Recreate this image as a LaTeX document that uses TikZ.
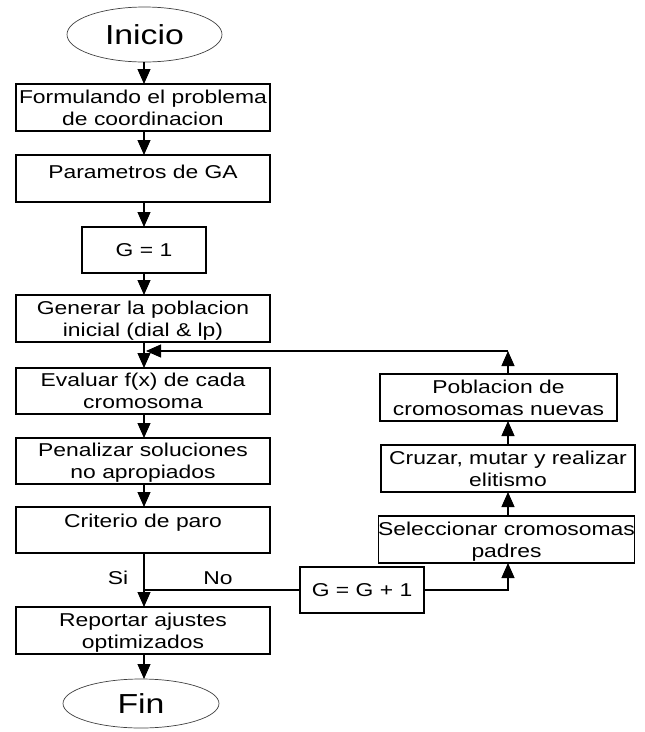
\documentclass[tikz,border=0pt]{standalone}
\usepackage{fontspec}
\setmainfont{Liberation Sans}[FakeStretch=1.23]
\usetikzlibrary{shapes.geometric,arrows.meta}
\begin{document}
\begin{tikzpicture}[x=1pt,y=-1pt,
  every node/.style={inner sep=0pt,outer sep=0pt},
  box/.style={draw,line width=1.1pt,rectangle,align=center,text depth=-5pt,
    font=\fontsize{18.6}{22}\selectfont},
  oval/.style={draw=black!75,line width=0.7pt,ellipse,
    font=\fontsize{27.5}{30}\selectfont},
  txt/.style={font=\fontsize{18.6}{22}\selectfont},
  arr/.style={line width=1.1pt,-{Triangle[length=15pt,width=13pt]}},
  ln/.style={line width=1.1pt}]
\useasboundingbox (0,0) rectangle (645,732);
% left column
\node[oval,minimum width=155pt,minimum height=55pt] (ini) at (144.5,34.5) {Inicio};
\node[box,minimum width=254pt,minimum height=47pt] (form) at (143,107.5) {Formulando el problema\\de coordinacion};
\node[box,minimum width=254pt,minimum height=47pt] (par) at (143,178.5) {};
\node[txt] (parT) at (143,172) {Parametros de GA};
\node[txt,draw,line width=1.1pt,minimum width=124pt,minimum height=46pt] (g1) at (144,250) {G = 1};
\node[box,minimum width=254pt,minimum height=47pt] (gen) at (143,318.5) {Generar la poblacion\\inicial (dial \& lp)};
\node[box,minimum width=254pt,minimum height=46pt] (eva) at (143,391) {Evaluar f(x) de cada\\cromosoma};
\node[box,minimum width=254pt,minimum height=46pt] (pen) at (143,461) {Penalizar soluciones\\no apropiados};
\node[box,minimum width=254pt,minimum height=46pt] (cri) at (143,530) {};
\node[txt] (criT) at (143,523) {Criterio de paro};
\node[box,minimum width=254pt,minimum height=47pt] (rep) at (143,630.5) {Reportar ajustes\\optimizados};
\node[oval,minimum width=156pt,minimum height=49pt] (fin) at (141,703.5) {Fin};
% right column
\node[box,minimum width=237pt,minimum height=47pt] (pob) at (498.5,397.5) {Poblacion de\\cromosomas nuevas};
\node[box,minimum width=254pt,minimum height=47pt] (cru) at (508,468.5) {Cruzar, mutar y realizar\\elitismo};
\node[box,minimum width=255pt,minimum height=47pt] (sel) at (506.5,539.5) {Seleccionar cromosomas\\padres};
\node[txt,draw,line width=1.1pt,minimum width=124pt,minimum height=46pt] (gg) at (362,590) {G = G + 1};
% labels
\node[txt] (si) at (118,578) {Si};
\node[txt] (no) at (218,578) {No};
% coordinates
\coordinate (split) at (144,590);
\coordinate (corner) at (508,351);
% connectors
\draw[arr] (ini.south -| split) -- (form.north -| split);
\draw[arr] (form.south -| split) -- (par.north -| split);
\draw[arr] (par.south -| split) -- (g1.north);
\draw[arr] (g1.south) -- (gen.north -| split);
\draw[arr] (gen.south -| split) -- (eva.north -| split);
\draw[arr] (eva.south -| split) -- (pen.north -| split);
\draw[arr] (pen.south -| split) -- (cri.north -| split);
\draw[arr] (cri.south -| split) -- (rep.north -| split);
\draw[arr] (rep.south -| split) -- (fin.north -| split);
\draw[ln] (split) -- (gg.west);
\draw[arr] (gg.east) -| (sel.south -| cru.south);
\draw[arr] (sel.north -| cru.south) -- (cru.south);
\draw[arr] (cru.north) -- (pob.south -| cru.north);
\draw[arr] (pob.north -| cru.north) -- (corner);
\draw[arr] (corner) -- (146,351);
\end{tikzpicture}
\end{document}
